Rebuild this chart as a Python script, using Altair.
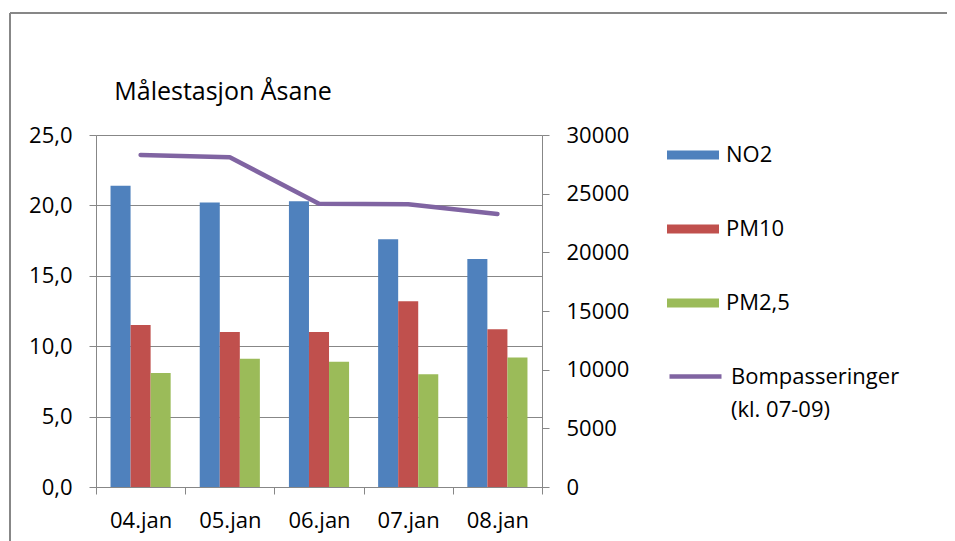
import altair as alt
import pandas as pd

days = ["04.jan", "05.jan", "06.jan", "07.jan", "08.jan"]
series = ["NO2", "PM10", "PM2,5"]
no2 = [21.4, 20.2, 20.3, 17.6, 16.2]
pm10 = [11.5, 11.0, 11.0, 13.2, 11.2]
pm25 = [8.1, 9.1, 8.9, 8.0, 9.2]
bom = [28300, 28100, 24150, 24100, 23270]
line_name = "Bompasseringer"
left_ticks = [0, 5, 10, 15, 20, 25]
right_ticks = [0, 5000, 10000, 15000, 20000, 25000, 30000]
colors = ["#4F81BD", "#C0504D", "#9BBB59"]
line_color = "#8064A2"

rows = []
for s, vals in zip(series, [no2, pm10, pm25]):
    for d, v in zip(days, vals):
        rows.append({"day": d, "series": s, "value": v})
bars_df = pd.DataFrame(rows)
line_df = pd.DataFrame({"day": days, "bom": bom, "name": [line_name] * len(days)})

FONT = "Open Sans"
GRAY = "#878787"
W, H = 446, 352
PAD_L, PAD_T = 88, 127
TOTAL_W, TOTAL_H = 939, 533

x_enc = alt.X(
    "day:N", sort=days, title=None,
    scale=alt.Scale(paddingInner=0, paddingOuter=0),
    axis=alt.Axis(labelAngle=0, tickBand="extent", tickSize=7, tickColor=GRAY,
                  domainColor=GRAY, labelFont=FONT, labelFontSize=22,
                  labelColor="black", labelPadding=16, grid=False),
)

bars = alt.Chart(bars_df).mark_bar().encode(
    x=x_enc,
    xOffset=alt.XOffset("series:N", sort=series,
                        scale=alt.Scale(paddingInner=0, paddingOuter=0.725)),
    y=alt.Y("value:Q", title=None,
            scale=alt.Scale(domain=[0, 25], nice=False),
            axis=alt.Axis(values=left_ticks,
                          labelExpr="replace(format(datum.value, '.1f'), '.', ',')",
                          grid=True, gridColor=GRAY, gridWidth=1.2,
                          tickSize=7, tickColor=GRAY, domainColor=GRAY,
                          labelFont=FONT, labelFontSize=22, labelColor="black",
                          labelPadding=17)),
    color=alt.Color("series:N", sort=series,
                    scale=alt.Scale(domain=series, range=colors),
                    legend=alt.Legend(title=None, orient="none", legendX=571, legendY=-6,
                                      symbolType="M-1,-0.175H1V0.175H-1Z",
                                      symbolSize=2704, symbolStrokeWidth=0,
                                      labelFont=FONT, labelFontSize=22,
                                      labelColor="black", labelOffset=7,
                                      rowPadding=37, padding=0)),
)

line = alt.Chart(line_df).mark_line(strokeWidth=4.5, strokeCap="round", strokeJoin="round").encode(
    x=alt.X("day:N", sort=days),
    y=alt.Y("bom:Q", title=None,
            scale=alt.Scale(domain=[0, 30000], nice=False),
            axis=alt.Axis(orient="right", values=right_ticks, format="d",
                          grid=False, tickSize=7, tickColor=GRAY, domainColor=GRAY,
                          labelFont=FONT, labelFontSize=22, labelColor="black",
                          labelPadding=17)),
    stroke=alt.Stroke("name:N",
                      scale=alt.Scale(domain=[line_name], range=[line_color]),
                      legend=alt.Legend(title=None, orient="none", legendX=571, legendY=213,
                                        symbolType="stroke", symbolSize=2704,
                                        symbolStrokeWidth=4.5,
                                        labelExpr="datum.label == 'Bompasseringer' ? ['Bompasseringer', '(kl. 07-09)'] : datum.label",
                                        labelFont=FONT, labelFontSize=22,
                                        labelColor="black", labelOffset=7,
                                        labelLimit=400, padding=0)),
)

frame_top = alt.Chart(line_df).mark_rule(color=GRAY, strokeWidth=1.5).encode(
    x=alt.value(-86), x2=alt.value(TOTAL_W), y=alt.value(-122))
frame_left = alt.Chart(line_df).mark_rule(color=GRAY, strokeWidth=1.5).encode(
    x=alt.value(-86), y=alt.value(-122), y2=alt.value(TOTAL_H))

chart = alt.layer(bars, line, frame_top, frame_left).resolve_scale(
    y="independent"
).properties(
    width=W, height=H,
    title=alt.TitleParams("Målestasjon Åsane", anchor="start", dx=105, dy=117,
                          font=FONT, fontSize=25, fontWeight="normal",
                          color="black", offset=24),
    autosize=alt.AutoSizeParams(type="none"),
    padding={"left": PAD_L, "top": PAD_T, "right": TOTAL_W - PAD_L - W,
             "bottom": TOTAL_H - PAD_T - H},
).configure_view(stroke=None).configure(
    background="white", style={"guide-label": {"lineHeight": 33}}
)

chart.save("out.html", embed_options={"renderer": "svg", "actions": False})
